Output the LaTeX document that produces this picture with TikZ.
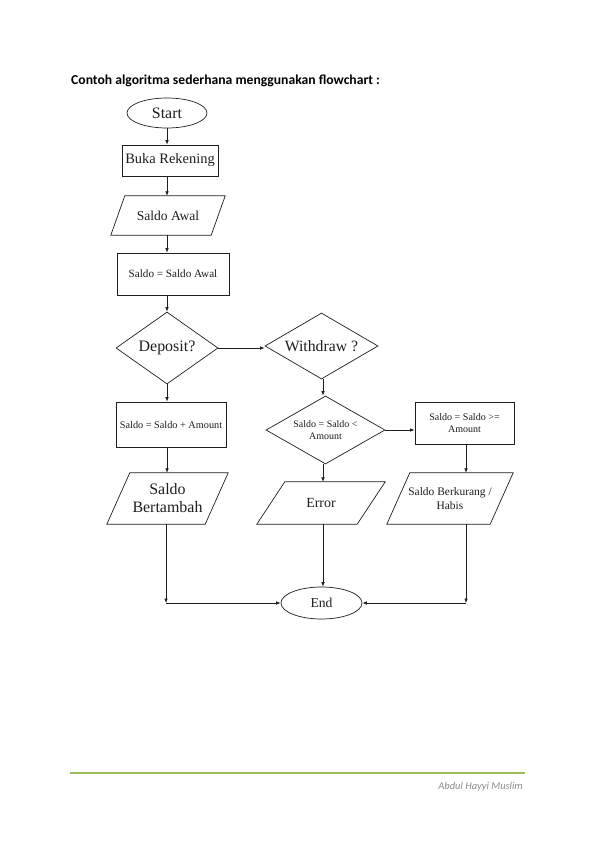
\documentclass[tikz,border=0pt]{standalone}
\usepackage{fontspec}
\setmainfont{Liberation Serif}
\newfontfamily\carlito{Carlito}
\usetikzlibrary{arrows.meta,shapes.geometric}
\definecolor{footgreen}{RGB}{155,187,89}
\definecolor{footgray}{RGB}{140,140,140}
\definecolor{ink}{RGB}{30,30,30}
\tikzset{
  lw/.style={line width=0.7bp, draw=ink},
  arr/.style={lw, -{Latex[length=4.5bp,width=3.6bp]}},
  oval/.style={lw, ellipse, inner sep=0pt, text=ink},
  box/.style={lw, rectangle, inner sep=0pt, align=center, text=ink},
  dia/.style={lw, diamond, inner sep=0pt, align=center, text=ink},
  para/.style={rectangle, inner sep=0pt, align=center, text=ink},
}
\begin{document}
\begin{tikzpicture}[x=1bp,y=-1bp]
\useasboundingbox[fill=white] (0,0) rectangle (595,842);
% title
\node[anchor=west, inner sep=0pt, font=\carlito\bfseries\fontsize{13.7}{16}\selectfont] (title) at (71,81) {Contoh algoritma sederhana menggunakan flowchart :};
% nodes
\node[oval, minimum width=80bp, minimum height=30bp, font=\fontsize{16}{18}\selectfont] (start) at (167,113) {Start};
\node[box, minimum width=96bp, minimum height=31bp, font=\fontsize{14.5}{16}\selectfont] (buka) at (170,160.5) {Buka Rekening};
\node[para, minimum width=100bp, minimum height=39bp, font=\fontsize{13.6}{16}\selectfont] (sawal) at (168,215.5) {Saldo Awal};
\draw[lw] ([xshift=7bp]sawal.north west) -- ([xshift=7bp]sawal.north east) -- ([xshift=-7bp]sawal.south east) -- ([xshift=-7bp]sawal.south west) -- cycle;
\node[box, minimum width=112bp, minimum height=42bp, font=\fontsize{11.2}{13}\selectfont] (ssa) at (173,274) {Saldo = Saldo Awal};
\node[dia, aspect=1.42, minimum width=102bp, minimum height=72bp, font=\fontsize{16}{18}\selectfont] (dep) at (167,348) {Deposit?};
\node[dia, aspect=1.7, minimum width=113bp, minimum height=66bp, font=\fontsize{15.8}{18}\selectfont] (wd) at (321.5,346) {Withdraw ?};
\node[box, minimum width=110bp, minimum height=45bp, font=\fontsize{10.3}{12}\selectfont] (splus) at (171,424.5) {Saldo = Saldo + Amount};
\node[dia, aspect=1.75, minimum width=119bp, minimum height=68bp, font=\fontsize{10}{12.5}\selectfont] (sless) at (325.5,430) {Saldo = Saldo <\\Amount};
\node[box, minimum width=99bp, minimum height=42bp, font=\fontsize{10.1}{12.5}\selectfont] (sge) at (464.5,423) {Saldo = Saldo >=\\Amount};
\node[para, minimum width=98bp, minimum height=51bp, font=\fontsize{16}{18}\selectfont] (sb) at (167.5,498.5) {Saldo\\Bertambah};
\draw[lw] ([xshift=11.5bp]sb.north west) -- ([xshift=11.5bp]sb.north east) -- ([xshift=-11.5bp]sb.south east) -- ([xshift=-11.5bp]sb.south west) -- cycle;
\node[para, minimum width=100bp, minimum height=42bp, font=\fontsize{14}{16}\selectfont] (err) at (321,503) {Error};
\draw[lw] ([xshift=14bp]err.north west) -- ([xshift=14bp]err.north east) -- ([xshift=-14bp]err.south east) -- ([xshift=-14bp]err.south west) -- cycle;
\node[para, minimum width=103bp, minimum height=51bp, font=\fontsize{11.5}{13.5}\selectfont] (sk) at (450,498.5) {Saldo Berkurang /\\Habis};
\draw[lw] ([xshift=11.5bp]sk.north west) -- ([xshift=11.5bp]sk.north east) -- ([xshift=-11.5bp]sk.south east) -- ([xshift=-11.5bp]sk.south west) -- cycle;
\node[oval, minimum width=81bp, minimum height=32bp, font=\fontsize{13.7}{16}\selectfont] (end) at (321.5,603) {End};
% junction points
\coordinate (jl) at (166,603);
\coordinate (jr) at (466,603);
\coordinate (cx) at (167,0);
\coordinate (mx) at (323,0);
% connectors
\draw[arr] (cx |- start.south) -- (cx |- buka.north);
\draw[arr] (cx |- buka.south) -- (cx |- sawal.north);
\draw[arr] (cx |- sawal.south) -- (cx |- ssa.north);
\draw[arr] (cx |- ssa.south) -- (dep.north);
\draw[arr] (dep.east) -- (dep.east -| wd.west);
\draw[arr] (dep.south) -- (cx |- splus.north);
\draw[arr] (cx |- splus.south) -- (cx |- sb.north);
\draw[arr] (mx |- wd.south) -- (mx |- sless.north);
\draw[arr] (sless.east) -- (sless.east -| sge.west);
\draw[arr] (mx |- sless.south) -- (mx |- err.north);
\draw[arr] (jr |- sge.south) -- (jr |- sk.north);
\draw[arr] (jl |- sb.south) -- (jl);
\draw[arr] (jl) -- (end.west);
\draw[arr] (mx |- err.south) -- (mx |- end.north);
\draw[arr] (jr |- sk.south) -- (jr);
\draw[arr] (jr) -- (end.east);
% footer
\draw[footgreen, line width=2.6bp] (70,773) -- (525,773);
\node[anchor=east, inner sep=0pt, text=footgray, font=\carlito\itshape\fontsize{10.5}{12}\selectfont] (foot) at (523,787) {Abdul Hayyi Muslim};
\end{tikzpicture}
\end{document}
